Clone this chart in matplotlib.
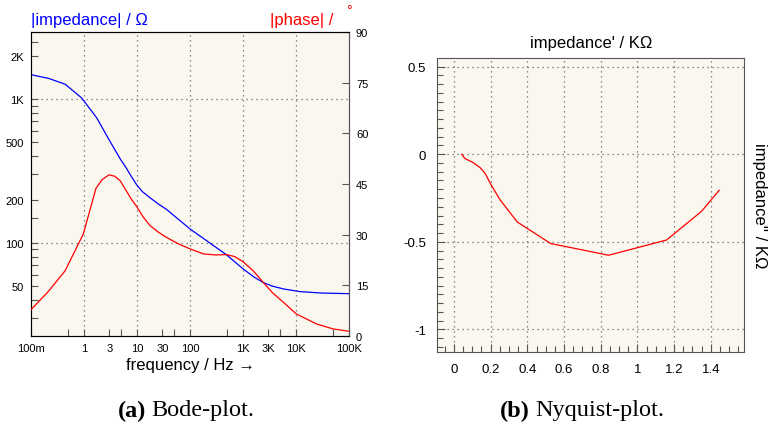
import numpy as np
import matplotlib
matplotlib.use("Agg")
import matplotlib.pyplot as plt
from matplotlib.ticker import FixedLocator, FixedFormatter, MultipleLocator, FormatStrFormatter, NullFormatter

plt.rcParams['font.family'] = ['Liberation Sans', 'DejaVu Sans']
plt.rcParams['axes.unicode_minus'] = False

# Bode data
freq_z = [0.1, 0.22, 0.44, 0.9, 1.74, 2.9, 4.8, 6.2, 7.9, 9.9, 12.5, 17.6, 25, 36, 100, 490, 1000,
          1600, 2400, 3600, 5800, 12000, 30000, 100000]
imp = [1480, 1390, 1270, 1020, 740, 530, 385, 334, 288, 253, 228, 206, 187, 171, 125, 82.5, 66,
       58, 53, 50, 47.8, 45.8, 44.8, 44.3]

freq_p = [0.1, 0.21, 0.44, 0.97, 1.68, 2.2, 2.96, 3.8, 4.8, 6.0, 7.9, 9.9, 13, 17.6, 25, 36, 60,
          100, 180, 300, 490, 700, 1000, 1560, 2400, 3600, 5760, 10000, 24500, 50000, 100000]
phase = [7.8, 13.1, 19.3, 30.2, 43.7, 46.3, 47.7, 47.3, 46.0, 43.5, 40.4, 38.3, 35.3, 32.7, 30.8, 29.2, 27.3,
         25.8, 24.3, 24.0, 24.1, 23.5, 22.0, 19.3, 15.9, 12.8, 10.0, 6.6, 3.55, 2.1, 1.4]

freq_ticks = [0.1, 1, 3, 10, 30, 100, 1000, 3000, 10000, 100000]
freq_labels = ['100m', '1', '3', '10', '30', '100', '1K', '3K', '10K', '100K']
freq_minor = [0.5, 5, 50, 500, 5000, 50000]
imp_ticks = [50, 100, 200, 500, 1000, 2000]
imp_labels = ['50', '100', '200', '500', '1K', '2K']
imp_minor = [30, 40, 60, 70, 80, 90, 150, 300, 400, 600, 700, 800, 900, 2500]
phase_ticks = [0, 15, 30, 45, 60, 75, 90]

# Nyquist data
z_real = [0.042, 0.06, 0.1, 0.142, 0.17, 0.2, 0.251, 0.345, 0.527, 0.843, 1.159, 1.35, 1.446]
z_imag = [0, -0.025, -0.045, -0.076, -0.11, -0.17, -0.26, -0.387, -0.51, -0.577, -0.49, -0.326, -0.206]

bg = '#faf7ef'
spine_c = '#555555'
grid_kw = dict(color='#666666', linestyle=(0, (1, 3)), linewidth=0.9)

fig = plt.figure(figsize=(7.68, 4.27), dpi=100)

# ---- Bode plot
ax = fig.add_axes([31/768, 1-337/427, 318/768, 304/427])
ax.set_facecolor(bg)
ax.set_xscale('log')
ax.set_yscale('log')
ax.plot(freq_z, imp, color='#0000ff', lw=0.9, zorder=3)
ax.set_xlim(0.1, 100000)
ax.set_ylim(22.5, 2930)
ax.xaxis.set_major_locator(FixedLocator(freq_ticks))
ax.xaxis.set_major_formatter(FixedFormatter(freq_labels))
ax.xaxis.set_minor_locator(FixedLocator(freq_minor))
ax.xaxis.set_minor_formatter(NullFormatter())
ax.yaxis.set_major_locator(FixedLocator(imp_ticks))
ax.yaxis.set_major_formatter(FixedFormatter(imp_labels))
ax.yaxis.set_minor_locator(FixedLocator(imp_minor))
ax.yaxis.set_minor_formatter(NullFormatter())
ax.tick_params(which='both', direction='in', length=5, width=0.8, color='#555555',
               labelsize=8, pad=5, top=False, right=False)
for x in [1, 10, 100, 1000, 10000]:
    ax.axvline(x, **grid_kw, zorder=1)
for y in [100, 1000]:
    ax.axhline(y, **grid_kw, zorder=1)
for s in ['left', 'bottom', 'right']:
    ax.spines[s].set_color(spine_c)
ax.spines['top'].set_color('black')
ax.set_xlabel('frequency / Hz \u2192', fontsize=12, labelpad=3)

ax2 = ax.twinx()
ax2.plot(freq_p, phase, color='#ff0000', lw=0.9, zorder=3)
ax2.set_ylim(0, 90)
ax2.set_yticks(phase_ticks)
ax2.tick_params(direction='in', length=5, width=0.8, color='#555555', labelsize=8, pad=5)
ax2.spines['right'].set_color(spine_c)
ax2.spines['top'].set_color('black')

fig.text(31/768, 1-20/427, '|impedance| / \u03a9', color='#0000ff', fontsize=12, va='center', ha='left')
fig.text(333/768, 1-20/427, '|phase| /', color='#ff0000', fontsize=12, va='center', ha='right')
fig.text(349/768, 1-11/427, '\u00b0', color='#ff0000', fontsize=10, va='center', ha='center')

# ---- Nyquist plot
bx = fig.add_axes([437.3/768, 1-352.7/427, 307/768, 293.4/427])
bx.set_facecolor(bg)
bx.plot(z_real, z_imag, color='#ff0000', lw=0.9, zorder=3)
bx.set_xlim(-0.091, 1.583)
bx.set_ylim(-1.128, 0.548)
bx.xaxis.set_major_locator(MultipleLocator(0.2))
bx.xaxis.set_minor_locator(MultipleLocator(0.05))
bx.xaxis.set_major_formatter(FormatStrFormatter('%g'))
bx.yaxis.set_major_locator(MultipleLocator(0.5))
bx.yaxis.set_minor_locator(MultipleLocator(0.05))
bx.yaxis.set_major_formatter(FormatStrFormatter('%g'))
bx.tick_params(which='major', direction='in', length=6, width=0.8, color='#555555', labelsize=9.5, pad=8)
bx.tick_params(which='minor', direction='in', length=4, width=0.8, color='#555555')
bx.grid(True, which='major', **grid_kw)
for s in bx.spines.values():
    s.set_color(spine_c)
bx.set_title("impedance' / K\u03a9", fontsize=12, pad=8)
bx.yaxis.set_label_position('right')
bx.set_ylabel("impedance'' / K\u03a9", fontsize=12, rotation=-90, labelpad=16)

# captions
cap = dict(family='Liberation Serif', fontsize=17.5, va='center')
fig.text(146/768, 1-411/427, '(a)', fontweight='bold', ha='right', **cap)
fig.text(151/768, 1-411/427, 'Bode-plot.', ha='left', **cap)
fig.text(530/768, 1-411/427, '(b)', fontweight='bold', ha='right', **cap)
fig.text(535/768, 1-411/427, 'Nyquist-plot.', ha='left', **cap)

fig.savefig('out.png', dpi=100)
